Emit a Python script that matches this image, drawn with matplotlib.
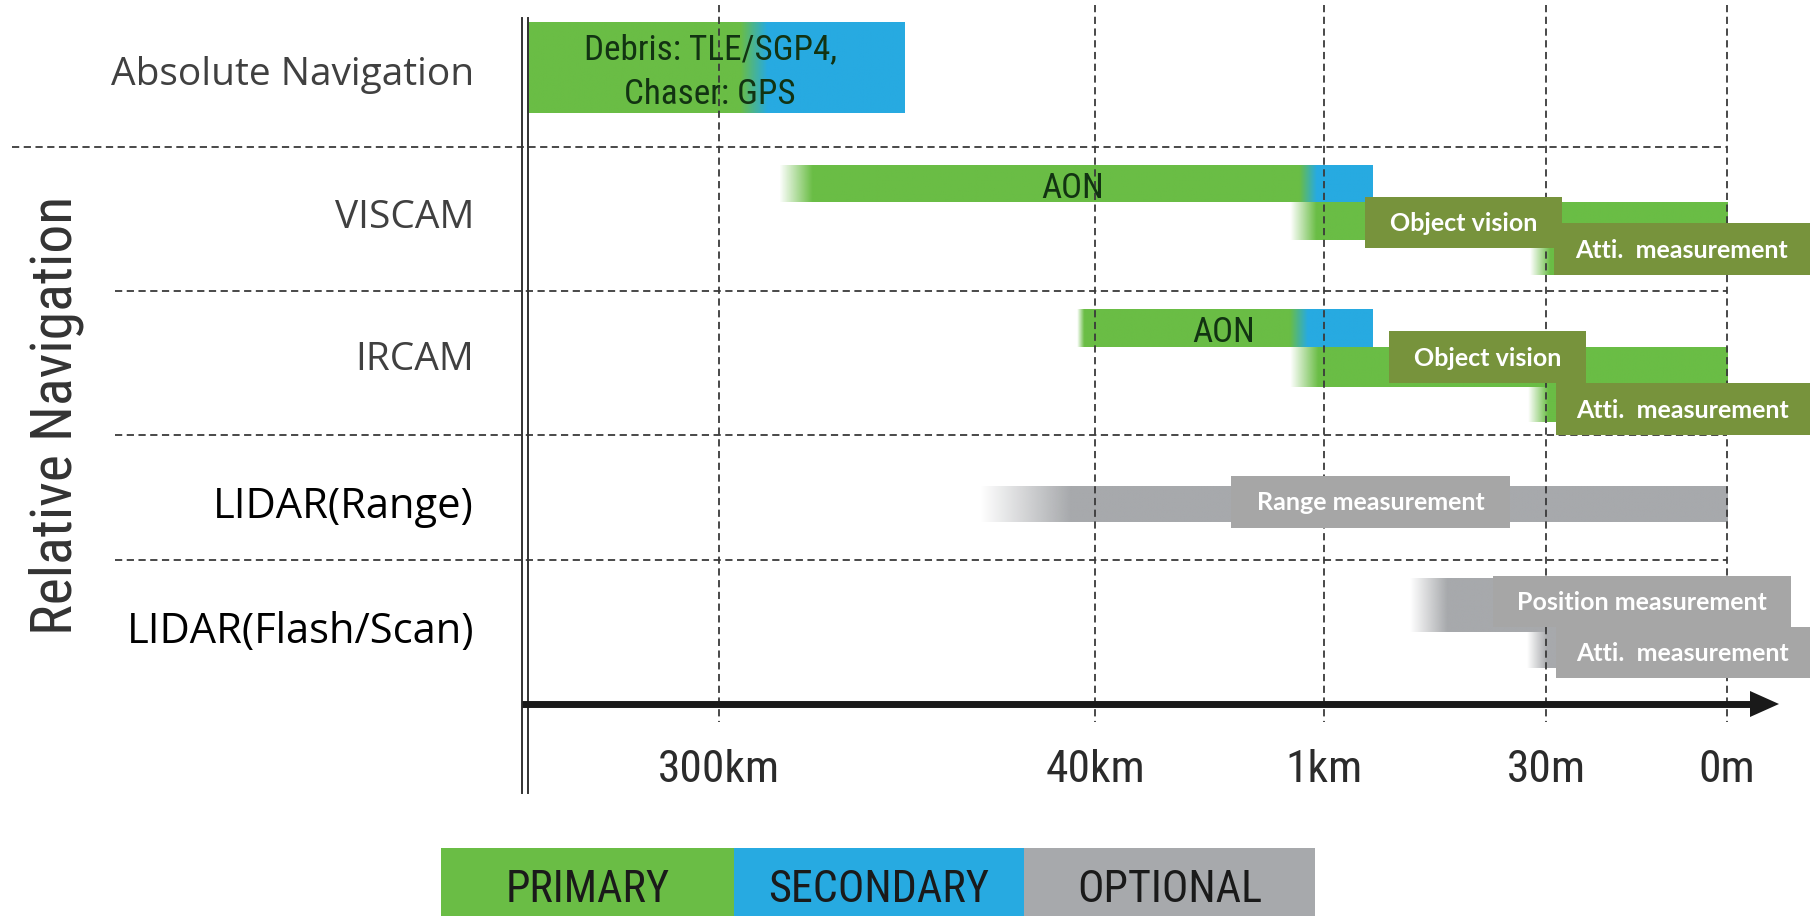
import numpy as np
import matplotlib.pyplot as plt
from matplotlib import font_manager
from matplotlib.font_manager import FontProperties
from matplotlib.patches import Rectangle, Polygon

# range scale of the approach (ticks are not evenly spaced in the original)
tick_labels = ['300km', '40km', '1km', '30m', '0m']
tick_pos = [719, 1095, 1324, 1546, 1727]

row_names = ['Absolute Navigation', 'VISCAM', 'IRCAM', 'LIDAR(Range)', 'LIDAR(Flash/Scan)']
row_y = [75, 218, 360, 507, 632]

# one entry per bar: fade-in start, fully coloured from, primary->secondary switch, end
bar_text = ['Debris: TLE/SGP4,\nChaser: GPS', 'AON', 'Object vision', 'Atti.  measurement',
            'AON', 'Object vision', 'Atti.  measurement',
            'Range measurement', 'Position measurement', 'Atti.  measurement']
bar_kind = ['primary', 'primary', 'primary', 'primary', 'primary', 'primary', 'primary',
            'optional', 'optional', 'optional']
bar_start = [527, 779, 1290, 1530, 1077, 1290, 1528, 980, 1410, 1527]
bar_solid = [527, 812, 1316, 1550, 1084, 1318, 1548, 1070, 1447, 1547]
bar_switch = [(740, 767), (1300, 1317), None, None, (1290, 1308), None, None, None, None, None]
bar_end = [904, 1373, 1727, 1727, 1373, 1727, 1727, 1727, 1727, 1727]

legend_labels = ['PRIMARY', 'SECONDARY', 'OPTIONAL']

# layout (pixels of the original sheet)
bar_y = [(22, 113), (165, 202), (202, 240), (240, 275), (309, 347), (347, 387), (387, 422),
         (486, 522), (578, 632), (632, 668)]
# label boxes: None = text written straight on the bar
box_pos = [None, None, (1365, 1562, 197, 248), (1554, 1810, 223, 275),
           None, (1389, 1586, 331, 383), (1556, 1810, 383, 435),
           (1231, 1510, 476, 528), (1493, 1791, 576, 627), (1556, 1810, 627, 678)]
inline_pos = {0: (710, 72), 1: (1073, 188), 4: (1224, 332)}

GREEN = np.array([106, 189, 69]) / 255
BLUE = np.array([39, 170, 225]) / 255
GREY = np.array([167, 169, 172]) / 255
OLIVE = '#77933c'
BOXGREY = '#a6a6a6'


def condensed_font():
    # look for any narrow/condensed regular face, else plain Liberation Sans
    files = [f.fname for f in font_manager.fontManager.ttflist]
    for key in ['OpenSansCondensed', 'OpenSans_Condensed', 'RobotoCondensed-Regular',
                'NotoSans-Condensed.', 'NotoSans-CondensedRegular', 'DejaVuSansCondensed.',
                'LiberationSansNarrow-Regular']:
        for fn in files:
            if key in fn.replace(' ', ''):
                return FontProperties(fname=fn)
    return FontProperties(family='Liberation Sans')


NARROW = condensed_font()

fig = plt.figure(figsize=(18.1, 9.16), dpi=100)
ax = fig.add_axes([0, 0, 1, 1])
renderer = fig.canvas.get_renderer()


def fit_size(text, width, size0=30):
    t = fig.text(0, 0, text, fontproperties=NARROW, fontsize=size0)
    w = t.get_window_extent(renderer=renderer).width
    t.remove()
    return size0 * width / w


def narrow(size):
    fp = NARROW.copy()
    fp.set_size(size)
    return fp


def bar_image(x0, x1, solid, switch, c1, c2, n=600):
    xs = np.linspace(x0, x1, n)
    t = np.zeros(n)
    if switch is not None:
        t = np.clip((xs - switch[0]) / (switch[1] - switch[0]), 0, 1)
    rgba = np.ones((1, n, 4))
    rgba[0, :, :3] = (1 - t)[:, None] * c1 + t[:, None] * c2
    if solid > x0:
        rgba[0, :, 3] = np.clip((xs - x0) / (solid - x0), 0, 1)
    return rgba


abs_size = fit_size('Debris: TLE/SGP4,', 253)
aon_size = fit_size('AON', 63)

for i in range(len(bar_text)):
    c1 = GREEN if bar_kind[i] == 'primary' else GREY
    img = bar_image(bar_start[i], bar_end[i], bar_solid[i], bar_switch[i], c1, BLUE)
    y0, y1 = bar_y[i]
    ax.imshow(img, extent=[bar_start[i], bar_end[i], y1, y0], aspect='auto',
              interpolation='bilinear', zorder=2)

    if box_pos[i] is not None:
        bx0, bx1, by0, by1 = box_pos[i]
        fc = OLIVE if bar_kind[i] == 'primary' else BOXGREY
        ax.add_patch(Rectangle((bx0, by0), bx1 - bx0, by1 - by0, fc=fc, ec='none', zorder=4))
        ax.text((bx0 + bx1) / 2, (by0 + by1) / 2 + 1, bar_text[i], color='white',
                fontsize=18, fontweight='bold', family='Lato', ha='center', va='center', zorder=5)
    else:
        cx, cy = inline_pos[i]
        lines = bar_text[i].split('\n')
        size = abs_size if len(lines) > 1 else aon_size
        for k, ln in enumerate(lines):
            dy = (k - (len(lines) - 1) / 2) * 44
            ax.text(cx, cy + dy, ln, color='#123312', fontproperties=narrow(size),
                    ha='center', va='center', zorder=5)

# dashed grid
for x in tick_pos:
    ax.plot([x, x], [5, 722], color='#3a3a3a', lw=1.3, ls=(0, (4, 2.5)), zorder=3)
for y, x0 in zip([147, 291, 435, 560], [12, 115, 115, 115]):
    ax.plot([x0, 1727], [y, y], color='#3a3a3a', lw=1.3, ls=(0, (4, 2.5)), zorder=1)

# double vertical line and range axis
for x in [522, 528]:
    ax.plot([x, x], [18, 793], color='#333333', lw=1.4, zorder=6)
ax.plot([522, 1752], [704, 704], color='#1a1a1a', lw=5, solid_capstyle='butt', zorder=6)
ax.add_patch(Polygon([(1750, 691), (1779, 704), (1750, 717)], closed=True,
                     fc='#1a1a1a', ec='none', zorder=6))
tick_size = fit_size('300km', 122)
for x, lab in zip(tick_pos, tick_labels):
    ax.text(x, 770, lab, fontproperties=narrow(tick_size), color='#2b2b2b',
            ha='center', va='center')

# row labels
for k, (name, y) in enumerate(zip(row_names, row_y)):
    col = '#404040' if k < 3 else '#000000'
    ax.text(474, y, name, fontsize=28 if k < 3 else 30, family='Open Sans', color=col,
            ha='right', va='center')
ax.text(56, 415, 'Relative Navigation', rotation=90,
        fontproperties=narrow(fit_size('Relative Navigation', 439)),
        color='#333333', ha='center', va='center')

# legend strip
leg_x = [441, 734, 1024, 1315]
leg_size = fit_size('SECONDARY', 221)
for k, lab in enumerate(legend_labels):
    fc = [GREEN, BLUE, GREY][k]
    ax.add_patch(Rectangle((leg_x[k], 848), leg_x[k + 1] - leg_x[k], 80, fc=fc, ec='none'))
    ax.text((leg_x[k] + leg_x[k + 1]) / 2, 890, lab, fontproperties=narrow(leg_size),
            color='#1a1a1a', ha='center', va='center')

ax.set_xlim(0, 1810)
ax.set_ylim(916, 0)
ax.axis('off')
fig.savefig('out.png', dpi=100)
